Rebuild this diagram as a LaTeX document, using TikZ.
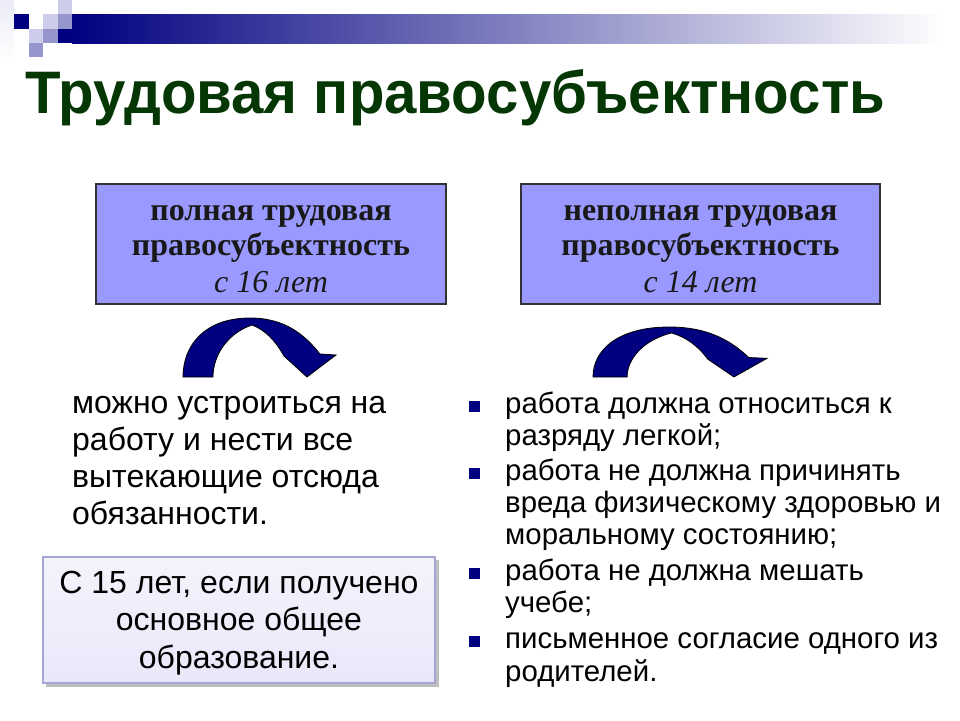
\documentclass[tikz,border=0pt]{standalone}
\usepackage{fontspec}
\usepackage{graphicx}
\setmainfont{Liberation Serif}
\setsansfont{Liberation Sans}
\newfontfamily\arialf{Liberation Sans}
\definecolor{navy}{RGB}{0,0,128}
\definecolor{sqmed}{RGB}{150,150,205}
\definecolor{sqlight}{RGB}{205,205,235}
\definecolor{titlegreen}{RGB}{5,55,5}
\definecolor{boxfill}{RGB}{153,153,255}
\definecolor{lowfill}{RGB}{232,232,250}
\definecolor{lowborder}{RGB}{165,165,215}
\tikzset{
  hdrbox/.style={draw=black!80, line width=1.2pt, fill=boxfill, inner sep=0, minimum width=350pt, minimum height=120pt},
  hdrtxt/.style={font=\fontsize{32}{36}\selectfont\bfseries, anchor=base, inner sep=0, text=black!90},
  hdrital/.style={font=\fontsize{32}{36}\selectfont\itshape, anchor=base, inner sep=0, text=black!90},
  bodytxt/.style={font=\arialf\fontsize{32}{37}\selectfont, anchor=base west, inner sep=0},
  lowtxt/.style={font=\arialf\fontsize{32}{37}\selectfont, anchor=base, inner sep=0},
  listtxt/.style={font=\arialf\fontsize{29.4}{33}\selectfont, anchor=base west, inner sep=0},
  bulletsq/.style={fill=navy, minimum size=11pt, inner sep=0},
  arrowshape/.style={fill=navy, draw=black, line width=0.8pt}
}
\newcommand{\curvshape}{%
  \filldraw[arrowshape] (0,1) .. controls (0,0.458) and (0.144,0) .. (0.438,0)
    .. controls (0.667,0) and (0.797,0.288) .. (0.895,0.61)
    -- (1,0.627) -- (0.810,1) -- (0.660,0.644)
    .. controls (0.601,0.373) and (0.536,0.203) .. (0.451,0.119)
    .. controls (0.294,0.254) and (0.196,0.627) .. (0.196,1) -- cycle;}
\begin{document}
\begin{tikzpicture}[x=1pt,y=-1pt]
\useasboundingbox (0,0) rectangle (960,720);
\fill[white] (0,0) rectangle (960,720);
% top decoration
\shade[top color=sqlight!40, bottom color=white] (0,0) rectangle (14,60);
\shade[left color=navy, right color=white] (72,14) rectangle (945,43);
\fill[navy] (14,14) rectangle (29,28.5);
\fill[sqlight] (43,14) rectangle (58,28.5);
\fill[sqlight] (58,0) rectangle (72,14);
\fill[sqmed] (58,14) rectangle (72,28.5);
\fill[sqlight] (29,28.5) rectangle (43,43);
\fill[sqmed] (43,28.5) rectangle (58,43);
\fill[navy] (58,28.5) rectangle (72.5,43);
\fill[sqmed] (29,43) rectangle (43,57);
% title
\node[anchor=base west, inner sep=0, text=titlegreen] (title) at (25,113)
  {\resizebox{860pt}{\height}{\arialf\fontsize{60}{64}\selectfont\bfseries Трудовая правосубъектность}};
% header boxes
\node[hdrbox] (lbox) at (271,244) {};
\node[hdrtxt] (l1) at (271,220) {полная трудовая};
\node[hdrtxt] (l2) at (271,255) {правосубъектность};
\node[hdrital] (l3) at (271,292) {с 16 лет};
\node[hdrbox, minimum width=359pt] (rbox) at (700.5,244) {};
\node[hdrtxt] (r1) at (700.5,220) {неполная трудовая};
\node[hdrtxt] (r2) at (700.5,255) {правосубъектность};
\node[hdrital] (r3) at (700.5,292) {с 14 лет};
% curved arrows
\begin{scope}[shift={(183,318)}, xscale=153, yscale=59]
\curvshape
\end{scope}
\begin{scope}[shift={(593,327)}, xscale=174, yscale=50]
\curvshape
\end{scope}
% left text
\node[bodytxt] (t1) at (72,413) {можно устроиться на};
\node[bodytxt] (t2) at (72,450) {работу и нести все};
\node[bodytxt] (t3) at (72,487) {вытекающие отсюда};
\node[bodytxt] (t4) at (72,524) {обязанности.};
% lower box
\fill[black!25] (46,560) rectangle (439,687);
\node[draw=lowborder, line width=1.2pt, top color=lowfill!50, bottom color=lowfill, minimum width=392pt, minimum height=126pt, inner sep=0] (lowbox) at (239,620) {};
\node[lowtxt] (b1) at (239,593) {С 15 лет, если получено};
\node[lowtxt] (b2) at (239,630) {основное общее};
\node[lowtxt] (b3) at (239,668) {образование.};
% right list
\node[bulletsq] (s1) at (474,406) {};
\node[listtxt] (p1) at (505,413) {работа должна относиться к};
\node[listtxt] (p1b) at (505,445) {разряду легкой;};
\node[bulletsq] (s2) at (474,473) {};
\node[listtxt] (p2) at (505,480) {работа не должна причинять};
\node[listtxt] (p2b) at (505,512) {вреда физическому здоровью и};
\node[listtxt] (p2c) at (505,544) {моральному состоянию;};
\node[bulletsq] (s3) at (474,573) {};
\node[listtxt] (p3) at (505,580) {работа не должна мешать};
\node[listtxt] (p3b) at (505,612) {учебе;};
\node[bulletsq] (s4) at (474,641) {};
\node[listtxt] (p4) at (505,648) {письменное согласие одного из};
\node[listtxt] (p4b) at (505,681) {родителей.};
\end{tikzpicture}
\end{document}
